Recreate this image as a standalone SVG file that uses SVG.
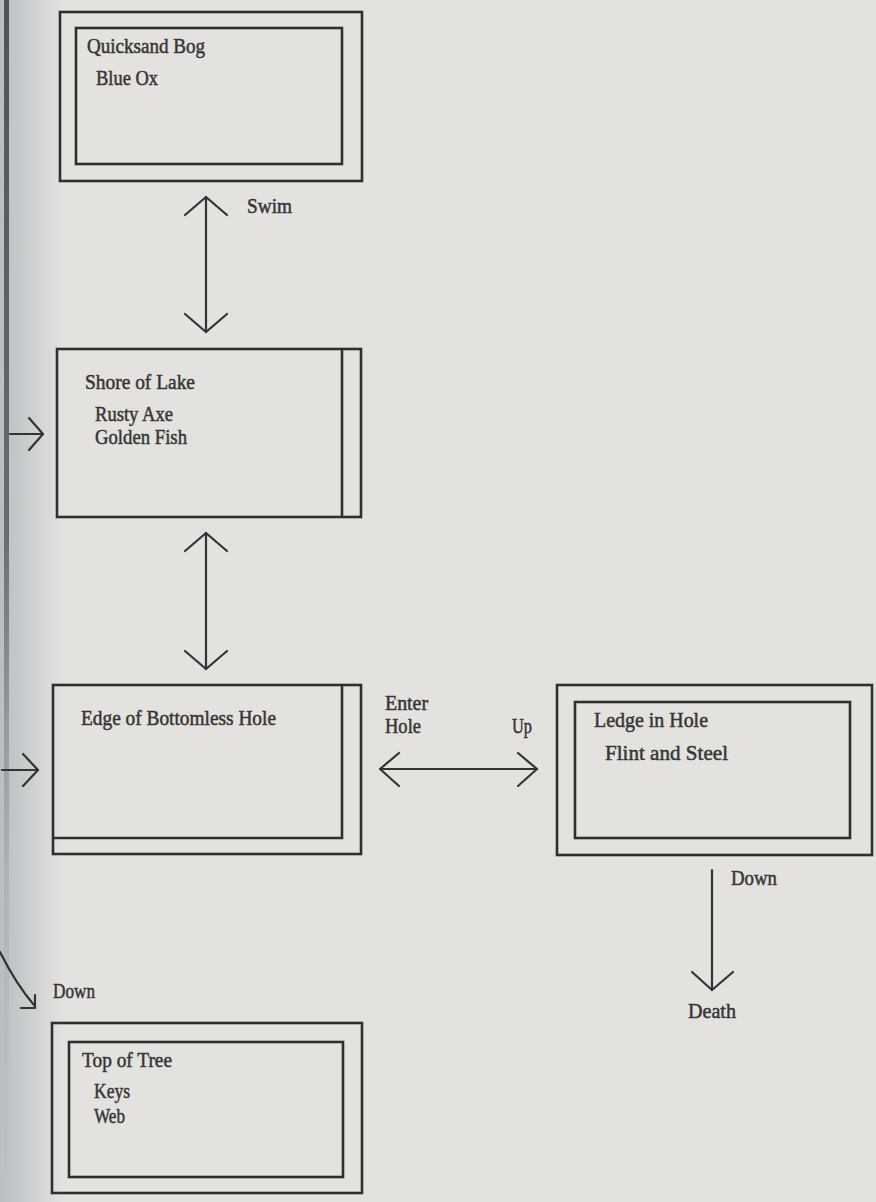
<svg xmlns="http://www.w3.org/2000/svg" width="876" height="1202" viewBox="0 0 876 1202">
  <defs>
    <linearGradient id="gutter" x1="0" y1="0" x2="1" y2="0">
      <stop offset="0" stop-color="#b9bec1"/>
      <stop offset="0.5" stop-color="#cdd0d1"/>
      <stop offset="1" stop-color="#e3e2df"/>
    </linearGradient>
    <linearGradient id="spine" x1="0" y1="0" x2="0" y2="1">
      <stop offset="0" stop-color="#4a4c4d" stop-opacity="0.95"/>
      <stop offset="0.45" stop-color="#55585a" stop-opacity="0.8"/>
      <stop offset="0.75" stop-color="#8a8e90" stop-opacity="0.25"/>
      <stop offset="1" stop-color="#9a9ea0" stop-opacity="0"/>
    </linearGradient>
  </defs>
  <style>
    .box { fill: none; stroke: #2f2f2f; stroke-width: 2.6; }
    .edge { fill: none; stroke: #333; stroke-width: 2.2; stroke-linecap: round; stroke-linejoin: round; }
    text { font-family: "Liberation Serif", "Times New Roman", serif; font-size: 21px; fill: #363636; stroke: #363636; stroke-width: 0.5; }
  </style>

  <!-- page -->
  <rect x="0" y="0" width="876" height="1202" fill="#e3e2df"/>
  <rect x="0" y="0" width="62" height="1202" fill="url(#gutter)"/>
  <rect x="4" y="0" width="5" height="1202" fill="url(#spine)"/>

  <!-- rooms -->
  <g id="quicksand-bog">
    <rect class="box" x="60" y="12" width="302" height="169"/>
    <rect class="box" x="76" y="28" width="266" height="136"/>
    <text x="87" y="53" textLength="118" lengthAdjust="spacingAndGlyphs">Quicksand Bog</text>
    <text x="96" y="85" textLength="62" lengthAdjust="spacingAndGlyphs">Blue Ox</text>
  </g>

  <g id="shore-of-lake">
    <rect class="box" x="57" y="349" width="304" height="168"/>
    <line class="box" x1="342" y1="349" x2="342" y2="517"/>
    <text x="85" y="389" textLength="110" lengthAdjust="spacingAndGlyphs">Shore of Lake</text>
    <text x="95" y="421" textLength="78" lengthAdjust="spacingAndGlyphs">Rusty Axe</text>
    <text x="95" y="444" textLength="92" lengthAdjust="spacingAndGlyphs">Golden Fish</text>
  </g>

  <g id="edge-of-bottomless-hole">
    <rect class="box" x="53" y="685" width="308" height="169"/>
    <polyline class="box" points="342,685 342,838 53,838"/>
    <text x="81" y="725" textLength="195" lengthAdjust="spacingAndGlyphs">Edge of Bottomless Hole</text>
  </g>

  <g id="ledge-in-hole">
    <rect class="box" x="557" y="685" width="315" height="170"/>
    <rect class="box" x="575" y="702" width="275" height="136"/>
    <text x="594" y="727" textLength="114" lengthAdjust="spacingAndGlyphs">Ledge in Hole</text>
    <text x="605" y="760" textLength="123" lengthAdjust="spacingAndGlyphs">Flint and Steel</text>
  </g>

  <g id="top-of-tree">
    <rect class="box" x="52" y="1023" width="310" height="170"/>
    <rect class="box" x="69" y="1042" width="274" height="135"/>
    <text x="82" y="1067" textLength="90" lengthAdjust="spacingAndGlyphs">Top of Tree</text>
    <text x="94" y="1098" textLength="36" lengthAdjust="spacingAndGlyphs">Keys</text>
    <text x="94" y="1123" textLength="31" lengthAdjust="spacingAndGlyphs">Web</text>
  </g>

  <g id="death">
    <text x="688" y="1018" textLength="48" lengthAdjust="spacingAndGlyphs">Death</text>
  </g>

  <!-- connectors -->
  <g id="connectors">
    <!-- Quicksand Bog <-> Shore of Lake -->
    <line class="edge" x1="206" y1="197" x2="206" y2="332"/>
    <polyline class="edge" points="185,215 206,197 227,215"/>
    <polyline class="edge" points="185,314 206,332 227,314"/>
    <text x="247" y="213" textLength="45" lengthAdjust="spacingAndGlyphs">Swim</text>

    <!-- Shore of Lake <-> Edge of Bottomless Hole -->
    <line class="edge" x1="206" y1="533" x2="206" y2="669"/>
    <polyline class="edge" points="185,551 206,533 227,551"/>
    <polyline class="edge" points="185,651 206,669 227,651"/>

    <!-- incoming from the left page -->
    <line class="edge" x1="10" y1="434" x2="43" y2="434"/>
    <polyline class="edge" points="29,418 43,434 29,450"/>
    <line class="edge" x1="2" y1="770" x2="38" y2="770"/>
    <polyline class="edge" points="23,754 38,770 23,786"/>

    <!-- Edge of Bottomless Hole <-> Ledge in Hole -->
    <line class="edge" x1="380" y1="769" x2="537" y2="769"/>
    <polyline class="edge" points="399,753 380,769 399,786"/>
    <polyline class="edge" points="518,753 537,769 518,786"/>
    <text x="385" y="710" textLength="43" lengthAdjust="spacingAndGlyphs">Enter</text>
    <text x="385" y="733" textLength="36" lengthAdjust="spacingAndGlyphs">Hole</text>
    <text x="512" y="733" textLength="20" lengthAdjust="spacingAndGlyphs">Up</text>

    <!-- Ledge in Hole -> Death -->
    <line class="edge" x1="712" y1="870" x2="712" y2="990"/>
    <polyline class="edge" points="692,972 712,990 733,972"/>
    <text x="731" y="885" textLength="46" lengthAdjust="spacingAndGlyphs">Down</text>

    <!-- down into Top of Tree -->
    <path class="edge" d="M0,952 Q16,984 34,1005"/>
    <polyline class="edge" points="21,1008 35,1008 35,995"/>
    <text x="53" y="998" textLength="42" lengthAdjust="spacingAndGlyphs">Down</text>
  </g>
</svg>
